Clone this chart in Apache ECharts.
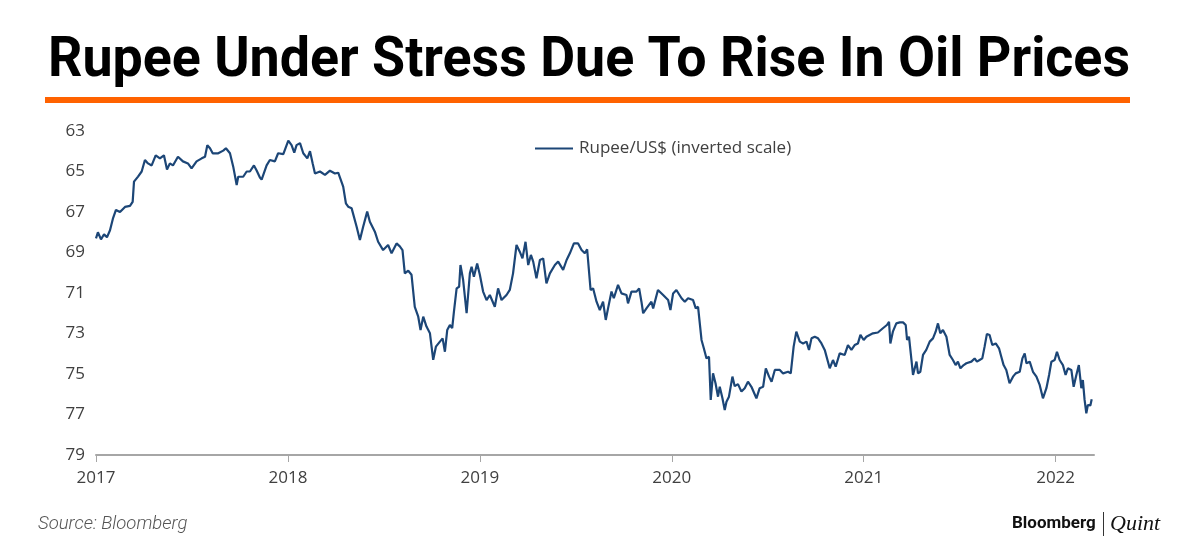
<!DOCTYPE html>
<html><head><meta charset="utf-8">
<script src="https://cdn.jsdelivr.net/npm/echarts@6/dist/echarts.min.js"></script>
<style>html,body{margin:0;padding:0;background:#fff;}#c{width:1200px;height:548px;}</style>
</head><body><div id="c"></div>
<script>
const titleText = 'Rupee Under Stress Due To Rise In Oil Prices';
const seriesName = 'Rupee/US$ (inverted scale)';
const yearTicks = [2017, 2018, 2019, 2020, 2021, 2022];
const yTicks = [63, 65, 67, 69, 71, 73, 75, 77, 79];
// time in decimal years
const dates = [2017.000,2017.010,2017.026,2017.042,2017.057,2017.073,2017.089,2017.104,2017.125,2017.151,2017.177,2017.191,2017.198,2017.219,2017.238,2017.255,2017.271,2017.290,2017.311,2017.333,2017.354,2017.370,2017.385,2017.401,2017.427,2017.453,2017.479,2017.498,2017.524,2017.551,2017.568,2017.580,2017.594,2017.608,2017.637,2017.663,2017.677,2017.698,2017.715,2017.733,2017.741,2017.767,2017.785,2017.802,2017.823,2017.837,2017.854,2017.863,2017.889,2017.906,2017.932,2017.949,2017.976,
2018.002,2018.019,2018.033,2018.045,2018.063,2018.080,2018.101,2018.115,2018.129,2018.141,2018.167,2018.193,2018.219,2018.245,2018.262,2018.288,2018.302,2018.314,2018.332,2018.358,2018.375,2018.392,2018.413,2018.427,2018.453,2018.470,2018.496,2018.522,2018.540,2018.566,2018.583,2018.597,2018.609,2018.627,2018.644,2018.661,2018.679,2018.691,2018.705,2018.722,2018.740,2018.757,2018.771,2018.792,2018.806,2018.818,2018.830,2018.844,2018.856,2018.865,2018.879,2018.892,2018.899,2018.913,2018.931,2018.948,2018.957,2018.969,2018.986,
2019.000,2019.017,2019.035,2019.052,2019.078,2019.095,2019.113,2019.139,2019.156,2019.173,2019.191,2019.208,2019.222,2019.238,2019.252,2019.266,2019.278,2019.295,2019.313,2019.330,2019.347,2019.365,2019.391,2019.408,2019.434,2019.452,2019.469,2019.490,2019.512,2019.530,2019.547,2019.559,2019.577,2019.590,2019.608,2019.625,2019.642,2019.656,2019.668,2019.686,2019.698,2019.720,2019.738,2019.764,2019.772,2019.790,2019.816,2019.830,2019.842,2019.851,2019.868,2019.894,2019.903,2019.928,2019.955,2019.981,2019.993,
2020.007,2020.024,2020.051,2020.068,2020.085,2020.111,2020.125,2020.137,2020.155,2020.167,2020.181,2020.194,2020.203,2020.215,2020.228,2020.241,2020.250,2020.264,2020.276,2020.285,2020.298,2020.316,2020.328,2020.345,2020.363,2020.380,2020.397,2020.415,2020.441,2020.458,2020.476,2020.490,2020.507,2020.520,2020.537,2020.563,2020.580,2020.606,2020.620,2020.635,2020.649,2020.667,2020.684,2020.702,2020.715,2020.728,2020.745,2020.762,2020.780,2020.797,2020.823,2020.840,2020.854,2020.875,2020.901,2020.918,2020.936,2020.953,2020.970,2020.983,
2021.000,2021.014,2021.031,2021.048,2021.074,2021.100,2021.121,2021.132,2021.139,2021.152,2021.170,2021.188,2021.205,2021.219,2021.226,2021.236,2021.249,2021.257,2021.266,2021.275,2021.283,2021.295,2021.309,2021.326,2021.344,2021.361,2021.375,2021.387,2021.399,2021.413,2021.431,2021.448,2021.465,2021.479,2021.491,2021.504,2021.521,2021.535,2021.561,2021.578,2021.590,2021.604,2021.618,2021.630,2021.642,2021.656,2021.670,2021.688,2021.705,2021.717,2021.729,2021.743,2021.760,2021.778,2021.792,2021.813,2021.827,2021.839,2021.848,2021.865,2021.882,2021.900,2021.917,2021.934,2021.952,2021.966,2021.978,2021.995,
2022.007,2022.021,2022.038,2022.052,2022.064,2022.082,2022.094,2022.108,2022.121,2022.134,2022.142,2022.151,2022.160,2022.168,2022.181,2022.188];
const rates = [68.3,68.0,68.35,68.1,68.25,67.9,67.3,66.9,67.0,66.75,66.7,66.5,65.5,65.25,65.0,64.43,64.6,64.7,64.2,64.35,64.2,64.9,64.6,64.7,64.27,64.5,64.6,64.85,64.5,64.35,64.27,63.7,63.85,64.1,64.1,63.97,63.85,64.1,64.76,65.67,65.26,65.26,65.0,65.0,64.7,64.95,65.3,65.4,64.7,64.43,64.5,64.1,64.14,
63.48,63.7,64.07,63.7,63.6,64.1,64.35,64.0,64.6,65.1,65.0,65.17,64.96,65.1,65.06,65.75,66.57,66.74,66.82,67.73,68.38,67.73,66.98,67.48,67.97,68.47,68.88,68.63,69.04,68.55,68.7,68.88,70.03,69.9,70.1,71.68,72.17,72.83,72.17,72.66,72.99,74.3,73.65,73.4,73.24,73.9,72.83,72.58,72.74,71.92,70.77,70.69,69.62,70.36,72.0,70.03,69.7,70.2,69.54,
70.1,70.93,71.35,71.1,71.68,70.77,71.35,71.1,70.85,70.03,68.63,68.96,69.29,68.47,69.62,69.12,69.45,70.27,69.37,69.29,70.52,70.03,69.62,69.45,69.86,69.37,69.04,68.55,68.55,68.88,69.04,68.84,70.85,70.77,71.43,71.84,71.43,72.33,71.76,70.93,71.26,70.6,71.02,71.1,71.51,70.93,70.93,70.77,71.43,72.0,71.76,71.43,71.76,70.85,71.1,71.35,71.84,
71.02,70.85,71.26,71.43,71.26,71.35,71.76,71.68,73.32,73.73,74.23,74.15,76.28,74.97,75.46,76.12,75.63,76.2,76.78,76.37,76.12,75.13,75.6,75.5,75.87,75.7,75.38,75.63,76.2,75.7,75.63,74.72,75.13,75.38,74.8,74.8,74.97,74.89,74.97,73.65,72.91,73.4,73.49,73.4,73.81,73.24,73.16,73.24,73.49,73.81,74.72,74.31,74.64,73.98,74.06,73.57,73.81,73.57,73.49,73.07,
73.32,73.16,73.07,72.99,72.95,72.74,72.58,72.42,73.49,72.91,72.5,72.45,72.45,72.58,73.32,73.16,74.31,75.05,75.05,74.39,74.97,74.89,74.06,73.81,73.4,73.24,72.91,72.5,72.99,72.83,73.16,74.06,74.31,74.56,74.39,74.72,74.56,74.47,74.39,74.23,74.39,74.31,74.23,73.65,73.02,73.07,73.57,73.49,73.73,74.15,74.56,74.8,75.46,75.13,74.97,74.89,74.23,73.98,74.47,74.39,74.89,75.13,75.54,76.2,75.7,75.05,74.39,74.31,
73.9,74.31,74.56,75.05,74.72,74.8,75.63,75.05,74.56,75.7,75.3,76.28,76.94,76.53,76.55,76.25];

const data = dates.map((d, i) => [d, rates[i]]);

// measure title to fit width
const cvs = document.createElement('canvas').getContext('2d');
cvs.font = 'bold 56px Roboto';
const tw = cvs.measureText(titleText).width;
const targetW = 1082;
const sx = targetW / tw;

const chart = echarts.init(document.getElementById('c'), null, {renderer: 'canvas'});
chart.setOption({
  animation: false,
  backgroundColor: '#ffffff',
  grid: {left: 96, right: 106, top: 131, bottom: 93, containLabel: false},
  legend: {
    show: true, left: 530, top: 135, itemWidth: 38, itemHeight: 2, icon: 'rect', itemGap: 5,
    textStyle: {fontFamily: 'Open Sans', fontSize: 17, color: '#404040', padding: [0, 0, 0, 1]},
    data: [seriesName]
  },
  xAxis: {
    type: 'value', min: 2017, max: 2022.2,
    axisLine: {show: true, lineStyle: {color: '#a6a6a6', width: 2}},
    axisTick: {show: true, length: 7, lineStyle: {color: '#a6a6a6', width: 1}, customValues: yearTicks},
    axisLabel: {customValues: yearTicks, formatter: v => String(Math.round(v)), color: '#404040', fontFamily: 'Open Sans', fontSize: 17, margin: 15},
    splitLine: {show: false}
  },
  yAxis: {
    type: 'value', inverse: true, min: 63, max: 79, interval: 2,
    axisLine: {show: false}, axisTick: {show: false}, splitLine: {show: false},
    axisLabel: {color: '#404040', fontFamily: 'Open Sans', fontSize: 17, margin: 11}
  },
  series: [{
    name: seriesName, type: 'line', data: data, showSymbol: false, symbol: 'none',
    lineStyle: {color: '#1c4677', width: 2.2}, itemStyle: {color: '#1c4677'}
  }],
  graphic: [
    {type: 'text', x: 48, y: 62, scaleX: sx, style: {text: titleText, font: 'bold 56px Roboto', fill: '#000', textVerticalAlign: 'middle', textAlign: 'left'}},
    {type: 'rect', shape: {x: 45, y: 97, width: 1085, height: 6}, style: {fill: '#ff6200'}},
    {type: 'text', x: 38, y: 524, style: {text: 'Source: Bloomberg', font: 'italic 300 18.5px Roboto', fill: '#555', textVerticalAlign: 'middle'}},
    {type: 'text', x: 1012, y: 524, style: {text: 'Bloomberg', font: 'bold 17px Roboto', fill: '#111', textVerticalAlign: 'middle'}},
    {type: 'rect', shape: {x: 1103, y: 512, width: 1, height: 24}, style: {fill: '#333'}},
    {type: 'text', x: 1110, y: 524, style: {text: 'Quint', font: 'italic 22px "Liberation Serif"', fill: '#111', textVerticalAlign: 'middle'}}
  ]
});
</script></body></html>
